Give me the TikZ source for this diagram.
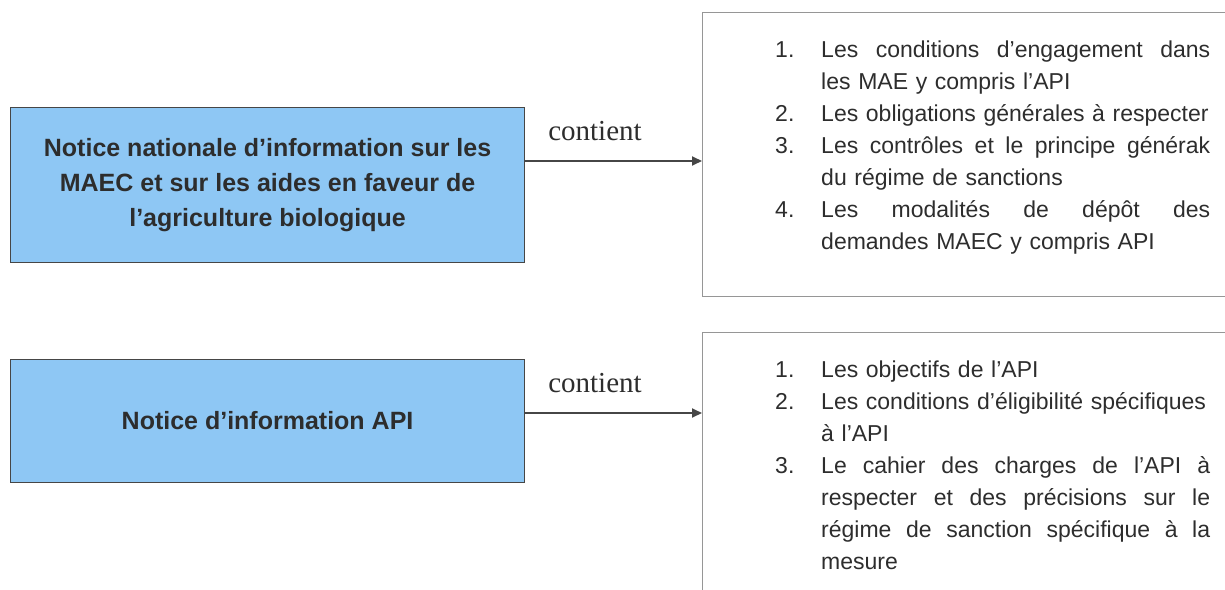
\documentclass[tikz,border=0pt]{standalone}
\usepackage{fontspec}
\setmainfont{Liberation Sans}
\newfontfamily\serifF{Liberation Serif}
\usetikzlibrary{arrows.meta}
\definecolor{boxblue}{RGB}{142,199,244}
\definecolor{txtgray}{RGB}{45,45,45}
\definecolor{edgegray}{RGB}{150,150,150}
\definecolor{arrgray}{RGB}{70,70,70}
\newcommand\itemJ[2]{\noindent\hbox to 46pt{#1\hfil}\hbox to 389pt{#2}\par}
\newcommand\itemL[2]{\noindent\hbox to 46pt{#1\hfil}#2\par}
\newcommand\G{\hskip 0pt plus 1fil\relax}
\tikzset{
  bluebox/.style={draw=arrgray, line width=1.1pt, fill=boxblue, anchor=north west,
    minimum width=514pt, text=txtgray, align=center, inner sep=0pt,
    font=\fontsize{25}{35}\selectfont\bfseries},
  listbox/.style={draw=edgegray, line width=1.3pt, anchor=north west, minimum width=560pt, inner sep=0pt},
  listtext/.style={anchor=north west, inner sep=0pt, text width=435pt, text=txtgray,
    font=\fontsize{23}{32}\selectfont},
  lbl/.style={anchor=base, inner sep=0pt, text=txtgray, font=\serifF\fontsize{29}{32}\selectfont},
  conn/.style={draw=arrgray, line width=1.8pt, -{Triangle[length=10pt,width=9pt]}},
}
\begin{document}
\begin{tikzpicture}[x=1pt,y=-1pt]
\useasboundingbox (0,0) rectangle (1225,589);
% top row
\node[bluebox, minimum height=155pt] (b1) at (10,107)
  {Notice nationale d’information sur les\\MAEC et sur les aides en faveur de\\l’agriculture biologique};
\node[listbox, minimum height=284pt] (r1) at (702,12) {};
\node[listtext] (t1) at (775,41) {%
\itemJ{1.}{Les \G conditions \G d’engagement \G dans}
\itemL{}{les MAE y compris l’API}
\itemL{2.}{Les obligations générales à respecter}
\itemJ{3.}{Les \G contrôles \G et \G le \G principe \G générak}
\itemL{}{du régime de sanctions}
\itemJ{4.}{Les \G modalités \G de \G dépôt \G des}
\itemL{}{demandes MAEC y compris API}};
\coordinate (a1) at (600,161);
\draw[conn] (b1.east |- a1) -- (r1.west |- a1);
\node[lbl] (c1) at (595,140) {contient};
% bottom row
\node[bluebox, minimum height=123pt] (b2) at (10,359) {Notice d’information API};
\node[listbox, minimum height=300pt] (r2) at (702,332) {};
\node[listtext] (t2) at (775,361) {%
\itemL{1.}{Les objectifs de l’API}
\itemL{2.}{Les conditions d’éligibilité spécifiques}
\itemL{}{à l’API}
\itemJ{3.}{Le \G cahier \G des \G charges \G de \G l’API \G à}
\itemJ{}{respecter \G et \G des \G précisions \G sur \G le}
\itemJ{}{régime \G de \G sanction \G spécifique \G à \G la}
\itemL{}{mesure}};
\coordinate (a2) at (600,413);
\draw[conn] (b2.east |- a2) -- (r2.west |- a2);
\node[lbl] (c2) at (595,392) {contient};
\end{tikzpicture}
\end{document}
